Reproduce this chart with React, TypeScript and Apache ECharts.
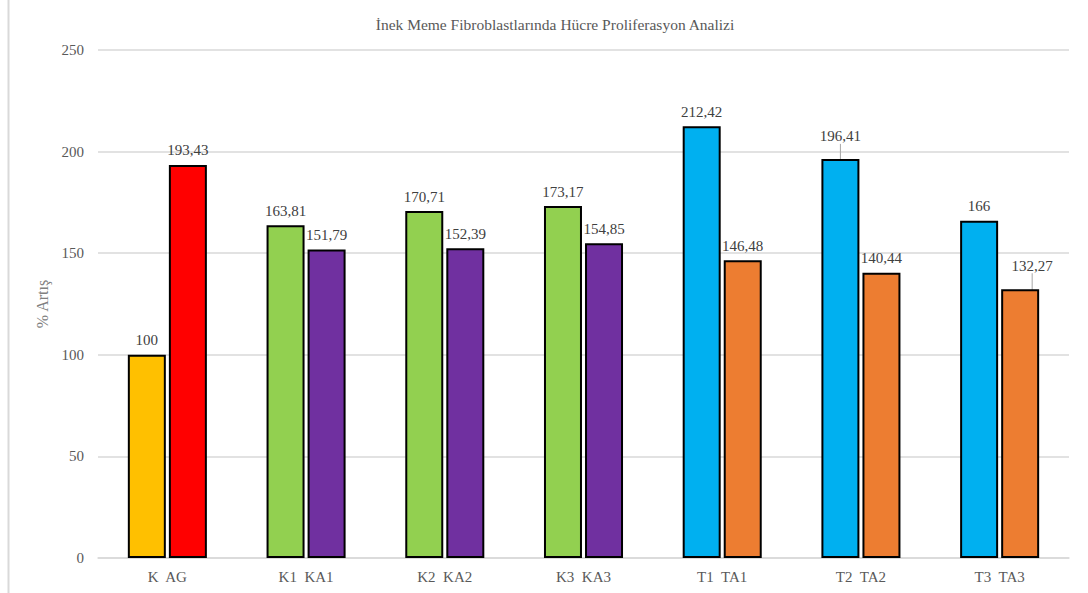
import React, { useEffect, useRef } from "react";
import * as echarts from "echarts";

const categories = ["K  AG", "K1  KA1", "K2  KA2", "K3  KA3", "T1  TA1", "T2  TA2", "T3  TA3"];
const firstValues = [100, 163.81, 170.71, 173.17, 212.42, 196.41, 166];
const secondValues = [193.43, 151.79, 152.39, 154.85, 146.48, 140.44, 132.27];
const firstColors = ["#FFC000", "#92D050", "#92D050", "#92D050", "#00B0F0", "#00B0F0", "#00B0F0"];
const secondColors = ["#FF0000", "#7030A0", "#7030A0", "#7030A0", "#ED7D31", "#ED7D31", "#ED7D31"];
const yTicks = { min: 0, max: 250, interval: 50 };

const FONT = "'Liberation Serif', 'Times New Roman', serif";

const fmt = (v: number) => String(v).replace(".", ",");

export default function App() {
  const ref = useRef<HTMLDivElement>(null);
  useEffect(() => {
    if (!ref.current) return;
    const chart = echarts.init(ref.current, null, { renderer: "svg" });
    const labelCfg = {
      show: true,
      position: "top" as const,
      distance: 7,
      fontFamily: FONT,
      fontSize: 15,
      color: "#404040",
      formatter: (p: any) => fmt(p.value),
    };
    const guide = { show: true, lineStyle: { color: "#a6a6a6", width: 1 } };
    chart.setOption({
      animation: false,
      backgroundColor: "#ffffff",
      title: {
        text: "İnek Meme Fibroblastlarında Hücre Proliferasyon Analizi",
        left: 550,
        textAlign: "center",
        top: 11,
        textStyle: { fontFamily: FONT, fontSize: 15.5, fontWeight: "normal", color: "#595959" },
      },
      graphic: [
        {
          type: "line",
          shape: { x1: 8.5, y1: 0, x2: 8.5, y2: 593 },
          style: { stroke: "#d9d9d9", lineWidth: 2 },
          silent: true,
        },
      ],
      grid: { left: 98, right: 19, top: 50, bottom: 35, containLabel: false },
      xAxis: {
        type: "category",
        data: categories,
        axisLine: { show: true, lineStyle: { color: "#d9d9d9", width: 1.5 } },
        axisTick: { show: false },
        axisLabel: { fontFamily: FONT, fontSize: 15, color: "#595959", margin: 11 },
      },
      yAxis: {
        type: "value",
        min: yTicks.min,
        max: yTicks.max,
        interval: yTicks.interval,
        name: "% Artış",
        nameLocation: "middle",
        nameGap: 47,
        nameTextStyle: { fontFamily: FONT, fontSize: 16, color: "#808080" },
        axisLine: { show: false },
        axisTick: { show: false },
        axisLabel: { fontFamily: FONT, fontSize: 15, color: "#595959", margin: 14 },
        splitLine: { lineStyle: { color: "#d9d9d9", width: 1.5 } },
      },
      series: [
        {
          type: "bar",
          barWidth: 38,
          barGap: "8%",
          data: firstValues.map((v, i) => ({
            value: v,
            itemStyle: { color: firstColors[i], borderColor: "#000000", borderWidth: 2 },
            labelLine: i === 5 ? guide : { show: false },
          })),
          label: labelCfg,
          labelLine: { show: false },
          labelLayout: (p: any) => (p.dataIndex === 5 ? { dy: -8 } : {}),
        },
        {
          type: "bar",
          barWidth: 38,
          data: secondValues.map((v, i) => ({
            value: v,
            itemStyle: { color: secondColors[i], borderColor: "#000000", borderWidth: 2 },
            labelLine: i === 6 ? guide : { show: false },
          })),
          label: labelCfg,
          labelLine: { show: false },
          labelLayout: (p: any) => (p.dataIndex === 6 ? { dx: 12, dy: -9 } : {}),
        },
      ],
    });
    return () => chart.dispose();
  }, []);
  return (
    <div
      ref={ref}
      style={{ position: "absolute", left: 0, top: 0, width: 1088, height: 593, background: "#fff" }}
    />
  );
}
